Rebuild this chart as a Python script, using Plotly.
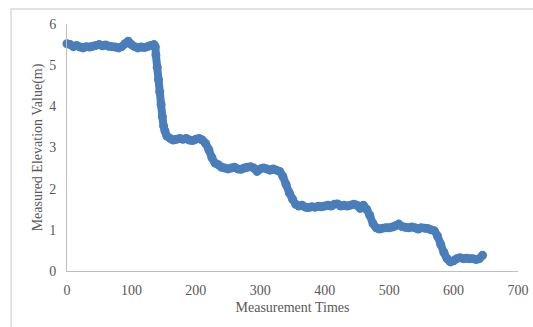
import plotly.graph_objects as go

times = [0, 5, 10, 15, 20, 25, 30, 35, 40, 45, 50, 55, 60, 65, 70, 75, 80, 85, 90, 95,
         100, 105, 110, 115, 120, 125, 130, 135, 137, 138, 140, 142, 144, 146, 148, 150,
         152, 155, 160, 165, 170, 175, 180, 185, 190, 195, 200, 205, 210, 215, 220, 225,
         230, 235, 240, 245, 250, 255, 260, 265, 270, 275, 280, 285, 290, 295, 300, 305,
         310, 315, 320, 325, 330, 335, 340, 345, 350, 355, 360, 365, 370, 375, 380, 385,
         390, 395, 400, 405, 410, 415, 420, 425, 430, 435, 440, 445, 450, 455, 460, 465,
         470, 475, 480, 485, 490, 495, 500, 505, 510, 515, 520, 525, 530, 535, 540, 545,
         550, 555, 560, 565, 570, 575, 580, 585, 590, 595, 600, 605, 610, 615, 620, 625,
         630, 635, 640, 645]
elevation = [5.52, 5.50, 5.45, 5.48, 5.44, 5.42, 5.45, 5.44, 5.46, 5.48, 5.50, 5.47, 5.49, 5.46, 5.45, 5.44, 5.42, 5.45, 5.52, 5.58,
             5.50, 5.45, 5.42, 5.44, 5.43, 5.45, 5.48, 5.50, 5.45, 5.25, 4.95, 4.65, 4.35, 4.05, 3.75, 3.52,
             3.40, 3.28, 3.22, 3.18, 3.20, 3.22, 3.20, 3.22, 3.18, 3.17, 3.20, 3.22, 3.18, 3.10, 2.95, 2.75,
             2.62, 2.58, 2.52, 2.50, 2.48, 2.50, 2.52, 2.48, 2.47, 2.50, 2.52, 2.53, 2.50, 2.42, 2.48, 2.50,
             2.48, 2.45, 2.48, 2.45, 2.42, 2.30, 2.10, 1.90, 1.75, 1.62, 1.58, 1.60, 1.55, 1.54, 1.56, 1.55,
             1.57, 1.56, 1.58, 1.60, 1.58, 1.62, 1.63, 1.58, 1.60, 1.58, 1.60, 1.62, 1.60, 1.52, 1.60, 1.50,
             1.35, 1.15, 1.05, 1.02, 1.04, 1.05, 1.05, 1.07, 1.10, 1.14, 1.08, 1.06, 1.05, 1.07, 1.05, 1.02,
             1.05, 1.04, 1.03, 1.00, 0.98, 0.85, 0.65, 0.45, 0.30, 0.22, 0.25, 0.30, 0.32, 0.30, 0.31, 0.30,
             0.30, 0.28, 0.30, 0.38]

x_ticks = [0, 100, 200, 300, 400, 500, 600, 700]
y_ticks = [0, 1, 2, 3, 4, 5, 6]

blue = "#4A7EBB"
fig = go.Figure(go.Scatter(
    x=times, y=elevation, mode="lines+markers",
    line=dict(color=blue, width=8, shape="spline", smoothing=0.4),
    marker=dict(color=blue, size=9),
    showlegend=False, cliponaxis=False,
))

font_family = "Liberation Serif"
fig.update_layout(
    width=533, height=327,
    margin=dict(l=67, r=15, t=24, b=56),
    paper_bgcolor="white", plot_bgcolor="white",
    font=dict(family=font_family, color="#595959", size=14),
    xaxis=dict(range=[0, 700], tickvals=x_ticks, showgrid=False, zeroline=False,
               showline=True, linecolor="#BFBFBF", linewidth=1,
               ticks="outside", ticklen=6, tickcolor="rgba(0,0,0,0)", automargin=False,
               tickfont=dict(size=14, color="#595959"),
               title=dict(text="Measurement Times", font=dict(size=14, color="#595959"), standoff=5)),
    yaxis=dict(range=[0, 6], tickvals=y_ticks, showgrid=False, zeroline=False,
               showline=True, linecolor="#BFBFBF", linewidth=1,
               ticks="outside", ticklen=7, tickcolor="rgba(0,0,0,0)", automargin=False,
               tickfont=dict(size=14, color="#595959"),
               title=dict(text="Measured Elevation Value(m)", font=dict(size=14, color="#595959"), standoff=3)),
    shapes=[dict(type="rect", xref="paper", yref="paper",
                 x0=-0.124, x1=1.2, y0=-0.5, y1=1.061,
                 line=dict(color="#D9D9D9", width=1.5), fillcolor="rgba(0,0,0,0)", layer="below")],
)

fig.write_html("out.html", config={"displayModeBar": False},
               post_script="document.body.style.margin='0';document.body.style.padding='0';")
